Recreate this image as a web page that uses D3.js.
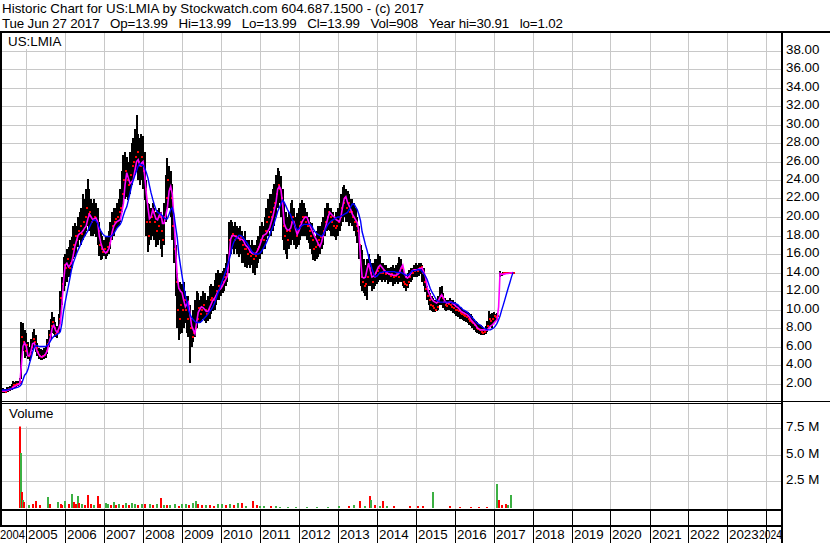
<!DOCTYPE html>
<html><head><meta charset="utf-8">
<script src="https://cdn.jsdelivr.net/npm/d3@7/dist/d3.min.js"></script>
<style>
html,body{margin:0;padding:0;background:#fff;}
svg{display:block;}
text{font-family:"Liberation Sans",Arial,sans-serif;font-size:13.33px;fill:#000;white-space:pre;}
</style></head>
<body>
<svg id="c" width="830" height="543"></svg>
<script>
// ---------- DATA ----------
const titleLine1 = "Historic Chart for US:LMIA by Stockwatch.com 604.687.1500 - (c) 2017";
const titleLine2 = "Tue Jun 27 2017   Op=13.99   Hi=13.99   Lo=13.99   Cl=13.99   Vol=908   Year hi=30.91   lo=1.02";
const symbolLabel = "US:LMIA";
const volumeLabel = "Volume";
// half-month periods starting 2004-05-16
const periodStart = "2004-05-16";
const priceTicks = [2,4,6,8,10,12,14,16,18,20,22,24,26,28,30,32,34,36,38];
const volTicks = [2.5,5.0,7.5];
const yearLabels = [2004,2005,2006,2007,2008,2009,2010,2011,2012,2013,2014,2015,2016,2017,2018,2019,2020,2021,2022,2023,2024];

const high = [
1.5,1.5,1.4,1.6,1.6,1.7,2.0,2.3,2.2,2.3,2.3,2.6,8.7,8.5,7.8,
7.5,6.5,6.0,6.8,7.6,7.9,7.2,6.4,5.8,5.7,5.6,5.8,6.0,6.8,7.8,9.0,9.7,9.2,8.6,8.2,9.5,12.0,13.5,15.7,
16.0,16.5,16.8,17.5,17.8,19.0,19.3,19.0,20.0,20.5,21.0,22.5,22.0,23.0,24.1,23.0,22.0,21.5,22.0,21.5,21.0,19.5,18.5,18.0,
17.5,17.8,18.0,18.5,19.5,20.5,21.0,21.0,21.5,22.0,23.0,25.0,26.7,27.0,26.5,26.0,27.0,28.0,28.5,29.5,31.0,29.0,28.5,29.0,
28.8,27.0,24.0,21.5,21.4,21.0,21.5,21.0,20.5,20.8,21.0,20.5,20.0,21.5,24.5,26.4,25.5,25.0,23.6,20.0,17.0,14.0,12.5,13.0,
12.8,13.0,12.0,11.5,11.5,10.5,9.0,10.0,11.0,12.0,11.8,11.0,11.5,12.0,11.8,11.0,11.5,12.5,12.8,12.5,13.2,14.0,14.3,14.0,
14.0,14.2,14.5,15.0,16.0,19.5,19.7,19.5,19.0,19.5,19.0,18.8,19.0,18.5,18.0,18.5,17.5,17.5,17.0,17.5,17.0,17.0,17.5,18.0,
19.0,19.5,19.0,20.0,21.0,22.0,22.5,22.5,23.0,23.6,24.5,25.3,25.0,24.4,23.0,21.5,20.5,20.0,20.5,21.5,21.8,21.0,20.0,20.4,
21.0,21.5,21.8,21.5,21.0,20.5,20.0,19.5,19.4,18.5,18.0,18.5,19.0,19.0,19.5,20.0,21.0,21.5,21.5,21.0,21.0,20.5,20.0,20.5,
21.0,21.5,22.5,23.2,23.5,23.0,22.8,22.5,22.0,22.0,21.5,21.0,20.0,19.0,17.0,16.4,15.5,14.8,15.5,16.0,15.5,15.0,15.0,15.5,
15.5,16.0,15.8,15.0,15.0,14.8,14.8,14.5,14.5,14.6,14.8,14.5,14.8,15.0,15.7,15.5,14.5,13.8,13.5,14.0,14.3,14.5,14.5,14.8,
15.0,14.8,15.0,15.0,14.8,14.5,13.5,12.5,12.1,11.8,11.5,11.2,11.0,11.0,11.5,12.4,12.5,11.8,11.2,11.0,11.0,11.2,11.0,11.0,
10.8,10.6,10.5,10.3,10.2,10.0,10.0,9.8,9.7,9.6,9.5,9.3,9.0,8.8,8.6,8.4,8.3,8.2,8.0,8.2,8.8,9.8,9.5,9.6,
9.7,9.5,9.6,null,14.2,14.0,14.1,14.0,14.0,14.0,14.0,14.0,13.99];
const low = [
1.0,1.0,1.0,1.1,1.1,1.2,1.3,1.4,1.5,1.6,1.7,1.9,2.5,5.5,4.8,
5.0,4.6,4.4,5.0,5.6,6.0,5.4,5.0,4.6,4.5,4.5,4.6,4.8,5.2,6.0,6.8,7.5,7.4,7.0,6.9,7.6,8.5,10.5,12.0,
12.5,13.0,13.5,13.8,14.5,15.5,15.7,16.0,16.8,17.5,17.0,17.5,18.0,18.5,19.0,18.5,18.0,18.0,18.2,17.8,17.0,15.8,15.4,15.5,
15.8,15.5,15.8,16.0,16.5,17.5,18.0,18.5,18.8,19.0,19.5,20.5,21.5,22.0,22.2,21.8,22.5,23.5,24.0,24.5,25.0,24.0,23.5,24.0,
23.0,21.8,18.0,16.2,17.0,17.5,18.0,17.5,16.8,17.0,17.5,16.5,15.7,17.0,19.5,21.0,21.0,20.0,17.5,15.0,11.5,8.0,6.7,7.4,
7.5,8.0,8.5,7.5,7.0,4.2,6.0,6.5,7.0,8.0,8.5,8.5,8.8,9.0,8.8,8.5,8.8,9.0,9.5,9.8,10.0,10.5,11.0,11.0,
11.5,11.8,12.0,12.5,13.0,14.0,16.0,16.5,16.0,16.5,16.0,15.7,16.0,15.0,15.0,14.6,14.5,14.8,14.5,14.8,14.0,13.7,14.5,15.0,
15.5,16.0,16.5,16.5,17.5,18.0,18.5,18.0,18.5,19.0,20.0,21.0,21.5,20.0,17.5,16.4,16.0,15.5,16.5,17.0,17.5,17.0,16.5,16.8,
17.0,17.5,18.0,18.0,18.0,17.5,17.2,16.5,16.0,15.4,15.2,15.5,15.7,16.0,16.5,17.0,18.0,18.5,18.6,18.5,18.0,18.0,17.8,17.5,
18.0,18.5,19.0,19.5,20.0,19.5,19.5,19.0,19.4,19.0,18.5,18.0,17.2,15.5,12.5,12.0,11.8,11.5,11.0,12.5,12.5,12.0,12.2,12.5,
12.8,13.0,13.2,13.0,13.2,13.0,13.2,12.8,13.0,13.0,12.5,12.8,13.0,12.8,13.0,13.0,12.5,12.3,12.0,12.3,12.8,13.0,13.2,13.5,
13.5,13.5,13.6,13.8,13.0,12.5,11.9,11.0,10.5,10.0,9.8,9.7,9.7,9.8,10.0,10.5,10.5,10.2,10.0,9.8,10.0,10.0,9.8,9.6,
9.5,9.3,9.2,9.0,9.0,8.9,8.8,8.6,8.5,8.3,8.2,8.0,7.8,7.6,7.5,7.3,7.2,7.2,7.2,7.3,7.6,8.0,8.2,8.0,
8.5,8.8,8.9,null,13.5,13.6,13.7,13.8,13.8,13.9,13.9,13.95,13.99];
const close = [
1.2,1.2,1.1,1.3,1.4,1.4,1.6,1.8,1.8,1.9,2.0,2.2,7.0,6.5,5.5,
6.2,5.0,5.2,6.0,6.8,6.5,5.8,5.4,5.0,4.9,5.0,5.1,5.5,6.3,7.2,8.2,8.6,8.0,7.4,7.6,9.0,11.2,12.8,14.8,
14.5,15.5,14.5,15.0,16.5,17.0,18.0,17.5,18.5,19.0,18.2,19.5,20.0,21.0,20.3,20.5,19.5,19.8,20.0,19.6,18.5,17.0,16.5,16.2,
16.5,16.2,16.8,17.2,18.0,19.0,19.5,19.8,20.0,20.5,21.0,22.5,24.0,25.0,24.0,23.5,24.5,25.5,26.0,26.5,27.0,26.0,25.5,26.5,
25.0,23.0,19.5,18.0,19.5,20.0,20.5,19.5,18.5,19.0,20.0,18.5,17.5,20.0,22.0,24.0,23.0,22.0,19.0,16.5,13.0,10.0,9.0,10.5,
10.0,11.0,10.0,9.0,10.0,8.0,7.0,7.5,8.0,9.0,10.2,9.5,10.0,10.5,10.0,9.5,10.0,11.0,11.2,11.0,11.5,12.0,12.5,12.3,
12.5,13.0,13.5,13.8,14.5,17.5,18.0,18.2,17.5,18.0,17.8,17.5,17.8,17.0,16.5,16.5,16.0,16.2,15.8,16.0,15.5,15.8,16.5,16.8,
17.5,18.0,17.5,18.5,19.5,20.0,20.5,20.0,21.0,21.5,22.5,23.5,23.0,22.0,19.0,18.0,18.5,17.5,18.5,19.5,20.0,19.0,18.0,18.5,
19.0,19.5,20.0,20.0,19.5,19.0,18.5,18.0,17.5,16.5,16.8,17.0,17.5,17.8,18.0,18.5,19.5,20.0,20.5,20.0,19.5,19.0,18.8,19.0,
19.5,20.0,21.0,21.5,22.0,21.0,21.5,20.5,20.5,20.0,19.5,19.0,18.5,17.0,13.5,13.0,12.5,12.8,13.5,14.5,14.0,13.0,13.5,14.0,
14.2,14.5,14.0,14.0,14.2,13.8,14.0,13.8,13.6,13.8,13.5,13.6,13.8,13.5,14.2,14.5,13.0,12.8,12.6,13.0,13.5,14.0,14.0,14.2,
14.3,14.2,14.5,14.6,14.0,13.0,12.2,11.5,11.0,10.5,10.4,10.2,10.0,10.3,10.8,11.5,11.2,10.8,10.5,10.4,10.6,10.5,10.3,10.2,
10.0,9.9,9.8,9.6,9.5,9.4,9.3,9.2,9.0,8.8,8.6,8.5,8.3,8.0,7.9,7.8,7.6,7.5,7.6,7.8,8.2,9.0,8.8,9.0,
9.3,9.2,9.3,null,13.8,13.8,13.9,13.9,13.95,13.99,13.99,13.99,13.99];
const maFast = [
1.2,1.2,1.2,1.25,1.3,1.35,1.45,1.6,1.7,1.8,1.9,2.0,4.0,6.0,6.4,
6.0,5.0,5.0,5.6,6.3,6.4,5.9,5.4,5.1,4.9,4.9,5.0,5.2,5.5,6.3,7.0,8.0,8.3,7.8,7.5,7.9,8.5,10.5,13.0,
14.8,15.0,14.6,14.8,15.0,15.8,16.8,17.4,18.0,18.2,18.3,18.5,18.8,19.0,19.8,20.3,20.0,19.7,19.8,19.9,19.5,18.0,17.2,16.6,
16.3,16.1,16.3,16.6,17.3,18.3,19.0,19.3,19.5,19.6,19.7,20.5,21.5,23.5,24.8,24.2,23.6,23.8,24.0,25.0,26.0,26.2,25.6,25.8,
26.0,24.5,22.5,21.0,19.8,20.0,20.8,20.3,19.8,19.7,20.2,20.4,19.3,19.3,20.2,21.0,22.8,23.3,22.5,20.0,16.5,13.5,12.3,12.0,
11.8,11.0,10.3,10.6,10.8,9.5,8.2,7.8,7.4,8.5,9.7,10.0,10.3,10.2,10.0,9.8,9.8,10.2,10.6,11.0,11.2,11.5,11.9,12.1,
12.3,12.6,13.0,13.3,13.6,15.5,17.6,18.0,18.0,17.9,17.8,17.7,17.6,17.6,17.4,17.0,16.8,16.6,16.3,16.1,16.1,16.0,16.2,16.5,
17.0,17.5,18.0,18.1,18.2,18.5,18.8,19.4,20.0,20.8,21.6,23.0,23.3,23.0,21.5,19.3,18.8,18.6,18.6,18.8,19.5,19.5,18.7,18.1,
18.5,19.0,19.5,19.8,20.0,20.0,19.5,19.0,18.6,18.2,17.8,17.5,17.1,16.8,17.3,18.0,18.6,19.3,20.0,20.5,20.3,20.1,20.0,19.7,
19.6,19.5,20.2,21.2,22.0,22.2,21.6,21.2,20.8,20.3,20.0,19.7,19.4,18.5,15.5,13.5,13.4,13.5,14.3,15.0,14.2,13.5,13.6,13.8,
14.2,14.6,14.8,14.6,14.4,14.2,14.0,13.9,13.8,13.8,13.7,13.7,13.7,13.8,14.0,14.5,14.8,14.0,13.5,13.4,13.6,13.9,14.2,14.3,
14.3,14.3,14.4,14.4,14.5,14.1,13.6,12.5,11.9,11.5,11.1,10.9,10.8,10.7,10.9,11.3,11.6,11.3,10.9,10.7,10.7,10.8,10.8,10.6,
10.5,10.3,10.2,10.0,9.8,9.7,9.6,9.5,9.4,9.2,8.9,8.7,8.5,8.3,8.0,7.9,7.8,7.8,7.8,7.8,7.8,8.0,8.2,8.3,
8.5,8.7,8.9,10.3,13.9,13.8,13.8,13.85,13.9,13.9,13.95,13.97,13.99];
const maSlow = [
1.3,1.3,1.3,1.3,1.35,1.4,1.4,1.45,1.5,1.55,1.6,1.7,1.9,2.4,2.9,
3.1,3.5,4.2,4.8,5.4,5.9,6.1,6.1,6.0,6.0,6.0,6.0,6.0,6.1,6.3,6.6,6.9,7.1,7.2,7.3,7.4,7.6,8.5,9.8,
10.8,11.7,12.6,13.5,14.3,15.0,15.5,16.0,16.4,16.8,17.2,17.6,17.9,18.2,18.5,18.9,19.3,19.6,19.7,19.6,19.3,18.9,18.5,18.2,
18.0,17.9,17.9,17.9,17.9,18.0,18.2,18.5,18.8,19.0,19.2,19.6,20.2,20.7,21.1,21.8,22.6,23.4,24.0,24.5,25.0,25.5,25.8,25.6,
25.6,25.3,24.8,24.2,23.4,22.6,21.9,21.3,20.8,20.5,20.4,20.3,20.1,19.9,19.8,19.8,20.3,20.8,21.0,20.3,19.0,17.8,16.0,14.8,
13.6,12.5,11.5,10.8,10.0,9.5,9.1,8.9,8.7,8.6,8.6,8.6,8.7,8.9,9.1,9.3,9.5,9.8,10.0,10.3,10.7,11.2,11.7,12.2,
12.7,13.2,13.7,14.2,14.7,15.3,16.0,16.8,17.3,17.6,17.8,18.0,18.0,17.9,17.7,17.4,17.2,16.9,16.6,16.3,16.1,16.0,16.0,16.0,
16.1,16.3,16.6,16.9,17.2,17.6,18.0,18.5,18.9,19.4,20.0,20.6,21.0,21.4,21.8,21.6,21.2,20.8,20.5,20.2,19.7,19.3,18.9,18.6,
18.7,18.9,19.1,19.2,19.2,19.2,19.2,19.2,19.0,18.7,18.4,18.2,18.1,18.0,17.9,18.1,18.5,18.9,19.2,19.4,19.6,19.7,19.8,19.9,
20.0,20.0,20.1,20.2,20.3,20.4,20.5,20.8,21.1,21.4,21.4,21.1,20.8,20.3,19.6,18.4,17.7,17.0,16.4,15.7,15.0,14.4,13.9,13.5,
13.6,13.8,14.0,14.0,14.1,14.1,14.1,14.1,14.1,14.1,14.1,14.1,14.0,14.0,14.0,14.0,13.9,13.8,13.7,13.7,13.8,14.0,14.2,14.2,
14.2,14.3,14.3,14.3,14.1,13.9,13.6,13.3,12.8,12.3,11.9,11.6,11.3,11.0,10.9,10.8,10.8,10.8,10.8,10.8,10.8,10.8,10.8,10.7,
10.7,10.6,10.5,10.3,10.2,10.0,9.9,9.8,9.7,9.5,9.3,9.1,8.9,8.7,8.5,8.4,8.3,8.1,8.0,7.9,7.8,7.8,7.8,7.9,
8.0,8.2,8.5,8.9,9.3,9.9,10.5,11.1,11.7,12.3,12.9,13.5,14.0];

// volume (millions), up = 1 green / 0 red
const volDates = ["2004-11-03","2004-11-10","2004-11-15","2004-11-20","2004-11-27","2004-12-12",
"2005-01-26","2005-03-02","2005-04-01","2005-05-05","2005-07-19","2005-08-13","2005-10-27","2005-11-21","2005-12-05","2005-12-30",
"2006-02-03","2006-03-09","2006-03-25","2006-04-08","2006-04-28","2006-05-13","2006-06-07","2006-07-01","2006-08-05","2006-08-30","2006-09-29","2006-11-02","2006-11-27",
"2007-01-15","2007-02-09","2007-03-06","2007-03-31","2007-04-25","2007-05-19","2007-06-23","2007-07-23","2007-08-26","2007-09-21","2007-10-15","2007-11-18","2007-12-18",
"2008-01-22","2008-03-02","2008-04-06","2008-05-11","2008-06-19","2008-07-14","2008-08-08","2008-09-12","2008-10-22","2008-12-01",
"2009-01-04","2009-02-08","2009-03-10","2009-04-14","2009-05-08","2009-06-03","2009-07-07","2009-08-15","2009-09-24","2009-10-29","2009-12-02",
"2010-01-11","2010-02-20","2010-03-26","2010-04-30","2010-06-09","2010-07-18","2010-08-22","2010-10-26","2010-11-30",
"2011-01-03","2011-02-12","2011-04-11","2011-05-31","2011-07-10","2011-09-23","2011-12-06",
"2012-03-14","2012-06-22","2012-09-29",
"2013-01-07","2013-04-15","2013-06-04","2013-07-23","2013-09-11","2013-10-31","2013-11-10","2013-12-19",
"2014-01-28","2014-03-04","2014-04-08","2014-06-11","2014-11-06",
"2015-01-20","2015-03-11","2015-06-08","2015-11-14",
"2016-02-21","2016-05-31","2016-08-13","2016-10-27",
"2017-02-03","2017-02-17","2017-03-24","2017-04-28","2017-05-12","2017-06-16"];
const volValues = [8.27,5.13,2.3,1.5,0.7,0.5,
0.25,0.35,0.6,0.2,0.95,0.3,0.5,0.3,0.2,0.6,
0.3,1.29,0.5,0.3,1.06,0.4,0.3,0.25,1.2,0.3,0.2,1.1,0.3,
0.4,0.3,0.2,0.5,0.2,0.3,0.2,0.4,0.2,0.45,0.3,0.2,0.3,
0.35,0.3,0.2,0.3,0.94,0.2,0.2,0.25,0.3,0.15,
0.3,0.35,0.2,0.4,0.6,0.3,0.2,0.25,0.2,0.15,0.3,
0.3,0.2,0.3,0.2,0.45,0.4,0.15,0.6,0.2,
0.15,0.1,0.1,0.1,0.08,0.08,0.08,
0.08,0.08,0.08,
0.1,0.15,0.2,0.6,0.15,1.1,0.7,0.2,
0.15,0.65,0.15,0.1,0.1,
0.1,0.1,1.42,0.1,
0.08,0.08,0.08,0.08,
2.24,0.7,0.25,0.3,0.2,1.2];
const volUp = [0,1,1,0,1,0,
1,0,0,0,1,0,1,0,0,1,
0,1,0,0,1,0,1,0,0,0,1,0,0,
1,1,0,1,0,1,0,1,0,1,1,0,1,
0,1,0,1,0,1,0,1,1,0,
1,1,0,1,1,0,0,1,0,0,1,
1,0,1,0,1,0,1,0,0,
1,1,0,1,1,1,1,
1,1,1,
1,0,1,0,1,0,1,0,
1,0,1,0,0,
0,0,1,0,
0,0,0,0,
1,0,0,0,1,1];

// ---------- LAYOUT ----------
const W = 830, H = 543;
const plotL = 2, plotR = 781;
const priceTop = 33, priceBot = 401.5;
const volTop = 403.5, volBot = 509;
const GRID = "#c8c8c8";
const svg = d3.select("#c");

const parse = d3.timeParse("%Y-%m-%d");
const x = d3.scaleTime().domain([new Date(2005,0,1), new Date(2024,0,1)]).range([26.3, 766.3]);
const y = d3.scaleLinear().domain([0, 40]).range([402, 32]);
const yv = d3.scaleLinear().domain([0, 10]).range([507.5, 401.5]);

const p0 = parse(periodStart);
const periodDate = i => {
  const half = (p0.getDate() > 1 ? 1 : 0) + i;
  const m = Math.floor(half / 2);
  return new Date(p0.getFullYear(), p0.getMonth() + m, half % 2 === 0 ? 1 : 16);
};
const bars = high.map((h, i) => ({d: periodDate(i), h, l: low[i], c: close[i], f: maFast[i], s: maSlow[i]}));

svg.append("rect").attr("width", W).attr("height", H).attr("fill", "#fff");

const yearDates = yearLabels.map(yr => new Date(yr, 0, 1));
const gridYears = yearDates.filter(d => x(d) > plotL && x(d) < plotR);

// grid price
const gp = svg.append("g").attr("stroke", GRID).attr("stroke-width", 1).attr("shape-rendering", "crispEdges");
gp.selectAll("line.h").data(priceTicks).join("line")
  .attr("x1", plotL).attr("x2", plotR).attr("y1", d => Math.round(y(d)) + 0.5).attr("y2", d => Math.round(y(d)) + 0.5);
gp.selectAll("line.v").data(gridYears).join("line")
  .attr("x1", d => Math.round(x(d)) + 0.5).attr("x2", d => Math.round(x(d)) + 0.5).attr("y1", priceTop).attr("y2", priceBot);
// grid volume
const gv = svg.append("g").attr("stroke", GRID).attr("stroke-width", 1).attr("shape-rendering", "crispEdges");
gv.selectAll("line.h").data(volTicks).join("line")
  .attr("x1", plotL).attr("x2", plotR).attr("y1", d => Math.round(yv(d)) + 0.5).attr("y2", d => Math.round(yv(d)) + 0.5);
gv.selectAll("line.v").data(gridYears).join("line")
  .attr("x1", d => Math.round(x(d)) + 0.5).attr("x2", d => Math.round(x(d)) + 0.5).attr("y1", volTop).attr("y2", volBot);

// clip
const defs = svg.append("defs");
defs.append("clipPath").attr("id", "cp").append("rect").attr("x", plotL).attr("y", priceTop).attr("width", plotR - plotL).attr("height", priceBot - priceTop);
defs.append("clipPath").attr("id", "cv").append("rect").attr("x", plotL).attr("y", volTop).attr("width", plotR - plotL).attr("height", volBot - volTop);

// price bars
const pg = svg.append("g").attr("clip-path", "url(#cp)").attr("shape-rendering", "crispEdges");
const valid = bars.filter(b => b.h != null);
pg.selectAll("rect.b").data(valid).join("rect")
  .attr("x", b => Math.round(x(b.d)) - 1).attr("width", 2)
  .attr("y", b => y(b.h)).attr("height", b => Math.max(1, y(b.l) - y(b.h)))
  .attr("fill", "#000");
pg.selectAll("rect.c").data(valid).join("rect")
  .attr("x", b => Math.round(x(b.d))).attr("width", 2)
  .attr("y", b => Math.round(y(b.c)) - 1).attr("height", 2)
  .attr("fill", "#ff0000");

// moving averages
const lineF = d3.line().x(b => x(b.d)).y(b => y(b.f));
const lineS = d3.line().x(b => x(b.d)).y(b => y(b.s));
const mg = svg.append("g").attr("clip-path", "url(#cp)").attr("fill", "none");
mg.append("path").datum(bars).attr("d", lineF).attr("stroke", "#ff00ff").attr("stroke-width", 1.6);
mg.append("path").datum(bars).attr("d", lineS).attr("stroke", "#0000ff").attr("stroke-width", 1.4);

// volume bars
const vols = volDates.map((d, i) => ({d: parse(d), v: volValues[i], up: volUp[i]}));
svg.append("g").attr("clip-path", "url(#cv)").attr("shape-rendering", "crispEdges")
  .selectAll("rect").data(vols).join("rect")
  .attr("x", v => Math.round(x(v.d)) - 1).attr("width", 2)
  .attr("y", v => yv(v.v)).attr("height", v => yv(0) - yv(v.v))
  .attr("fill", v => v.up ? "#3cb043" : "#ff0000");

// label boxes
svg.append("rect").attr("x", plotL).attr("y", priceTop).attr("width", 60).attr("height", 16).attr("fill", "#fff");
svg.append("text").attr("x", 8).attr("y", 46).text(symbolLabel);
svg.append("rect").attr("x", plotL).attr("y", volTop + 1).attr("width", 55).attr("height", 22).attr("fill", "#fff");
svg.append("text").attr("x", 9).attr("y", 418).text(volumeLabel);

// frame lines
const fr = svg.append("g").attr("fill", "#000").attr("shape-rendering", "crispEdges");
fr.append("rect").attr("x", 0).attr("y", 31).attr("width", W).attr("height", 2);
fr.append("rect").attr("x", 0).attr("y", 33).attr("width", 2).attr("height", 492);
fr.append("rect").attr("x", plotR).attr("y", 31).attr("width", 2).attr("height", H - 31);
fr.append("rect").attr("x", 0).attr("y", 401).attr("width", W).attr("height", 1);
fr.append("rect").attr("x", 0).attr("y", 403).attr("width", plotR).attr("height", 1);
fr.append("rect").attr("x", 0).attr("y", 509).attr("width", plotR).attr("height", 2);
fr.append("rect").attr("x", 0).attr("y", 525).attr("width", plotR).attr("height", 2);
fr.selectAll("rect.s").data(gridYears).join("rect")
  .attr("x", d => Math.round(x(d))).attr("width", 1).attr("y", 511).attr("height", H - 511);

// x labels: each label starts after its year line; first fits in the partial cell, last is squeezed into the last cell
const xl = svg.append("g");
yearDates.forEach((d, i) => {
  const t = xl.append("text").attr("y", 539).text(d.getFullYear());
  if (i === 0) {
    t.attr("x", 0).attr("textLength", 25).attr("lengthAdjust", "spacingAndGlyphs");
  } else if (i === yearDates.length - 1) {
    t.attr("x", 759).attr("textLength", 23).attr("lengthAdjust", "spacingAndGlyphs");
  } else {
    t.attr("x", Math.round(x(d)) + 2);
  }
});

// right axis labels
svg.append("g").selectAll("text").data(priceTicks).join("text")
  .attr("x", 786).attr("y", d => Math.round(y(d)) + 3).text(d3.format(".2f"));
svg.append("g").selectAll("text").data(volTicks).join("text")
  .attr("x", 786).attr("y", d => Math.round(yv(d)) + 3).text(d => d3.format(".1f")(d) + " M");

// header (widths matched to the reference)
svg.append("text").attr("x", 2).attr("y", 13).attr("textLength", 422).attr("lengthAdjust", "spacing").text(titleLine1);
svg.append("text").attr("x", 2).attr("y", 28).attr("textLength", 561).attr("lengthAdjust", "spacing").text(titleLine2.replace(/ /g, "\u00a0"));
</script>
</body></html>
